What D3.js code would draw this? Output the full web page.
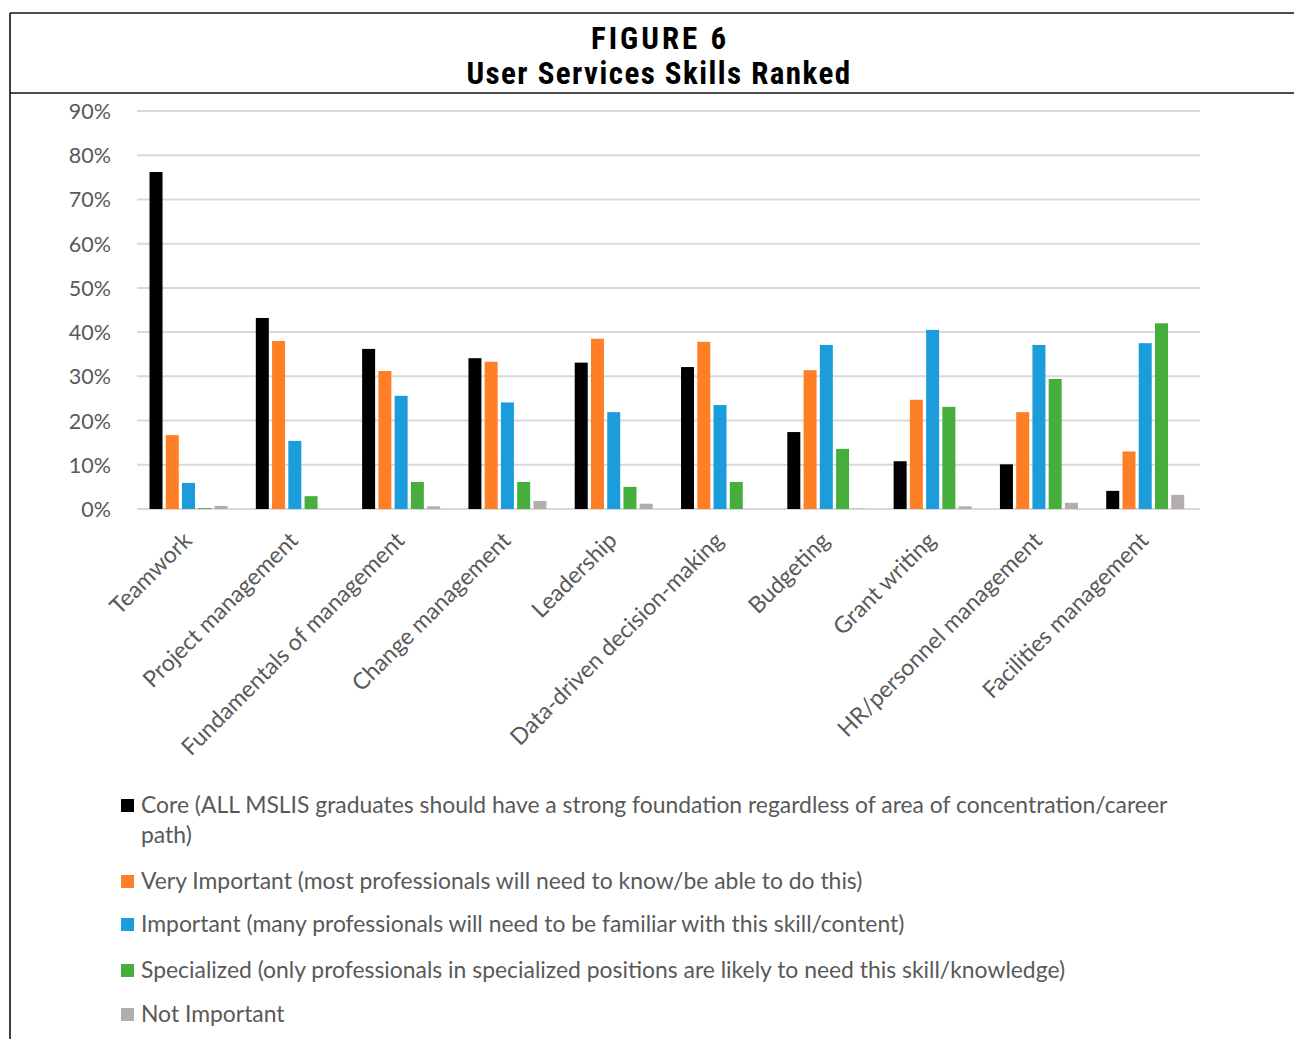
<!DOCTYPE html>
<html>
<head>
<meta charset="utf-8">
<script src="https://cdn.jsdelivr.net/npm/d3@7"></script>
<style>
  html, body { margin: 0; padding: 0; background: #fff; }
  svg { display: block; }
</style>
</head>
<body>
<svg id="chart" width="1294" height="1039"></svg>
<script>
// Skills surveyed, in ranked order
const categories = [
  "Teamwork", "Project management", "Fundamentals of management",
  "Change management", "Leadership", "Data-driven decision-making",
  "Budgeting", "Grant writing", "HR/personnel management", "Facilities management"
];

// Share of respondents (%) choosing each rating, per skill
const core          = [76.2, 43.2, 36.2, 34.1, 33.1, 32.1, 17.4, 10.8, 10.1, 4.1];
const veryImportant = [16.7, 38.0, 31.2, 33.3, 38.5, 37.8, 31.4, 24.7, 21.9, 13.0];
const important     = [5.9, 15.4, 25.6, 24.1, 21.9, 23.5, 37.1, 40.5, 37.1, 37.5];
const specialized   = [0.2, 2.9, 6.1, 6.1, 5.0, 6.1, 13.6, 23.1, 29.4, 42.0];
const notImportant  = [0.7, 0.0, 0.6, 1.8, 1.2, 0.0, 0.1, 0.6, 1.4, 3.2];

const seriesNames = [
  "Core (ALL MSLIS graduates should have a strong foundation regardless of area of concentration/career path)",
  "Very Important (most professionals will need to know/be able to do this)",
  "Important (many professionals will need to be familiar with this skill/content)",
  "Specialized (only professionals in specialized positions are likely to need this skill/knowledge)",
  "Not Important"
];
const seriesColors = ["#000000", "#ff7f27", "#1a9dda", "#45ae3c", "#b2aeac"];
const seriesValues = [core, veryImportant, important, specialized, notImportant];

const yTicks = [0, 10, 20, 30, 40, 50, 60, 70, 80, 90];

const svg = d3.select("#chart");
const W = 1294, H = 1039;

// Frame: top rule, rule under the title, left edge
const frame = svg.append("g").attr("stroke", "#111").attr("stroke-width", 1.6);
frame.append("line").attr("x1", 10).attr("x2", W).attr("y1", 13).attr("y2", 13);
frame.append("line").attr("x1", 10).attr("x2", W).attr("y1", 93).attr("y2", 93);
frame.append("line").attr("x1", 10).attr("x2", 10).attr("y1", 13).attr("y2", H);

// Title
const titleFont = "'Liberation Sans Narrow', 'Roboto Condensed', 'Open Sans', sans-serif";
svg.append("text").attr("x", 660).attr("y", 49).attr("text-anchor", "middle")
  .attr("font-family", titleFont).attr("font-weight", 700).attr("font-size", 31)
  .attr("letter-spacing", 3).attr("fill", "#000").text("FIGURE 6");
svg.append("text").attr("x", 659).attr("y", 84).attr("text-anchor", "middle")
  .attr("font-family", titleFont).attr("font-weight", 700).attr("font-size", 31)
  .attr("letter-spacing", 1.45).attr("fill", "#000").text("User Services Skills Ranked");

// Plot area
const plotLeft = 137, plotRight = 1200, plotTop = 111, plotBottom = 509;
const labelFont = "Lato, 'Open Sans', sans-serif";
const textColor = "#595959";

const y = d3.scaleLinear().domain([0, 90]).range([plotBottom, plotTop]);
const x0 = d3.scaleBand().domain(categories).range([plotLeft, plotRight])
  .paddingInner(0.2357).paddingOuter(0.1178);
const x1 = d3.scaleBand().domain(d3.range(seriesNames.length)).range([0, x0.bandwidth()]);

// Gridlines
const grid = svg.append("g");
grid.selectAll("line").data(yTicks).join("line")
  .attr("x1", plotLeft).attr("x2", plotRight)
  .attr("y1", d => y(d)).attr("y2", d => y(d))
  .attr("stroke", "#d9d9d9").attr("stroke-width", 2);

// Y axis labels
const yAxis = d3.axisLeft(y).tickValues(yTicks).tickFormat(d => d + "%").tickSize(0).tickPadding(0);
const yG = svg.append("g").attr("transform", `translate(111,0)`).call(yAxis);
yG.select(".domain").remove();
yG.selectAll("text").attr("font-family", labelFont).attr("font-size", 21.5)
  .attr("fill", textColor).attr("dy", "0.35em");

// Bars
const groups = svg.append("g").selectAll("g").data(categories).join("g")
  .attr("transform", d => `translate(${x0(d)},0)`);
groups.selectAll("rect")
  .data((c, i) => seriesValues.map((vals, s) => ({ s, v: vals[i] })))
  .join("rect")
  .attr("x", d => x1(d.s))
  .attr("width", x1.bandwidth() - 3.25)
  .attr("y", d => y(d.v))
  .attr("height", d => plotBottom - y(d.v))
  .attr("fill", d => seriesColors[d.s]);

// X axis labels, rotated
const xAxis = d3.axisBottom(x0).tickSize(0).tickPadding(0);
const xG = svg.append("g").attr("transform", `translate(0,${plotBottom})`).call(xAxis);
xG.select(".domain").remove();
xG.selectAll("text")
  .attr("font-family", labelFont).attr("font-size", 23).attr("fill", textColor)
  .attr("text-anchor", "end").attr("dy", null)
  .attr("transform", "translate(3,33) rotate(-45)");

// Legend
const legendFont = "Lato, 'Open Sans', sans-serif";
const legendRows = [
  { s: 0, lines: ["Core (ALL MSLIS graduates should have a strong foundation regardless of area of concentration/career", "path)"], y: 805 },
  { s: 1, lines: [seriesNames[1]], y: 881 },
  { s: 2, lines: [seriesNames[2]], y: 924 },
  { s: 3, lines: [seriesNames[3]], y: 970 },
  { s: 4, lines: [seriesNames[4]], y: 1014 }
];
const leg = svg.append("g").selectAll("g").data(legendRows).join("g");
leg.append("rect").attr("x", 121).attr("y", d => d.y - 6).attr("width", 13).attr("height", 13)
  .attr("fill", d => seriesColors[d.s]);
leg.append("text").attr("font-family", legendFont).attr("font-size", 22.9).attr("fill", textColor)
  .selectAll("tspan").data(d => d.lines.map((t, k) => ({ t, yy: d.y + k * 30 }))).join("tspan")
  .attr("x", 141).attr("y", d => d.yy).attr("dy", "0.35em").text(d => d.t);
</script>
</body>
</html>
